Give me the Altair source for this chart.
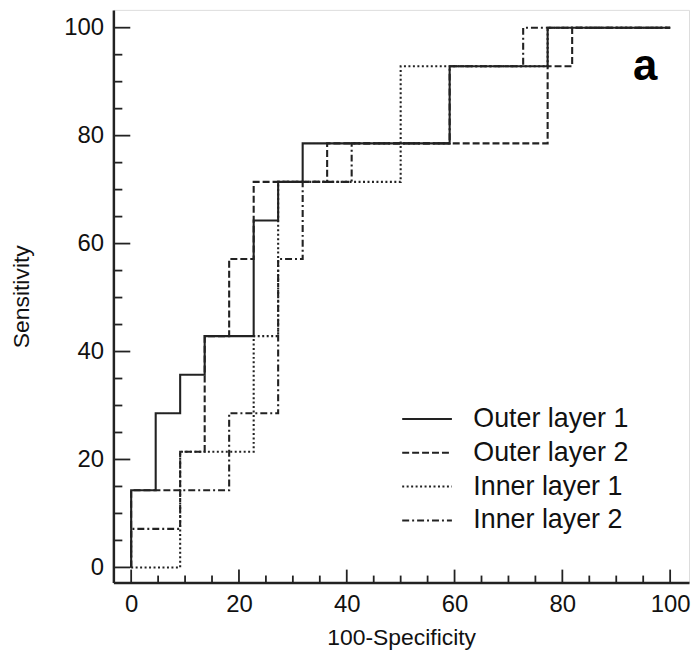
import altair as alt
import pandas as pd

series_names = ["Outer layer 1", "Outer layer 2", "Inner layer 1", "Inner layer 2"]

# ROC points (100-Specificity, Sensitivity), drawn as step-after curves
outer1_x = [0, 0, 4.55, 9.09, 13.64, 22.73, 27.27, 31.82, 59.09, 77.27, 100]
outer1_y = [0, 14.29, 28.57, 35.71, 42.86, 64.29, 71.43, 78.57, 92.86, 100, 100]

outer2_x = [0, 0, 9.09, 13.64, 18.18, 22.73, 36.36, 77.27, 81.82, 100]
outer2_y = [0, 14.29, 21.43, 42.86, 57.14, 71.43, 78.57, 92.86, 100, 100]

inner1_x = [0, 9.09, 22.73, 27.27, 50.0, 77.27, 100]
inner1_y = [0, 21.43, 42.86, 71.43, 92.86, 100, 100]

inner2_x = [0, 0, 9.09, 18.18, 27.27, 31.82, 40.91, 59.09, 72.73, 100]
inner2_y = [0, 7.14, 14.29, 28.57, 57.14, 71.43, 78.57, 92.86, 100, 100]

x_major = [0, 20, 40, 60, 80, 100]
x_minor = [5, 10, 15, 25, 30, 35, 45, 50, 55, 65, 70, 75, 85, 90, 95]
y_major = [0, 20, 40, 60, 80, 100]
y_minor = [5, 10, 15, 25, 30, 35, 45, 50, 55, 65, 70, 75, 85, 90, 95]

rows = []
for name, xs_, ys_ in zip(series_names,
                          [outer1_x, outer2_x, inner1_x, inner2_x],
                          [outer1_y, outer2_y, inner1_y, inner2_y]):
    for i, (a, b) in enumerate(zip(xs_, ys_)):
        rows.append({"series": name, "fpr": a, "sens": b, "order": i})
df = pd.DataFrame(rows)

W, H = 579, 576
INK = "#222222"
FONT = "Liberation Sans"

xscale = alt.Scale(domain=[-3.3, 103.5], nice=False, zero=False)
yscale = alt.Scale(domain=[-2.8, 103.3], nice=False, zero=False)

x_axis = alt.Axis(values=x_major, ticks=False, tickSize=0, grid=False,
                  title="100-Specificity", titleFontSize=23, titleFontWeight="normal",
                  titleFont=FONT, titleColor="#111", titlePadding=10,
                  labelFont=FONT, labelFontSize=24, labelColor="#111", labelPadding=10,
                  domainColor=INK, domainWidth=2.5, domainOpacity=1)
y_axis = alt.Axis(values=y_major, ticks=False, tickSize=0, grid=False,
                  title="Sensitivity", titleFontSize=23, titleFontWeight="normal",
                  titleFont=FONT, titleColor="#111", titlePadding=30,
                  labelFont=FONT, labelFontSize=24, labelColor="#111", labelPadding=10,
                  domainColor=INK, domainWidth=2.5, domainOpacity=1)

dash_scale = alt.Scale(domain=series_names,
                       range=[[1, 0], [7, 3], [2, 2.5], [7, 3, 2, 3]])

lines = alt.Chart(df).mark_line(interpolate="step-after", strokeWidth=2.1, color=INK).encode(
    x=alt.X("fpr:Q", scale=xscale, axis=x_axis),
    y=alt.Y("sens:Q", scale=yscale, axis=y_axis),
    strokeDash=alt.StrokeDash("series:N", scale=dash_scale, sort=series_names,
                              legend=alt.Legend(title=None, orient="none", legendX=302, legendY=398,
                                                symbolType="M-2.5,0H2.5", symbolSize=400,
                                                symbolStrokeWidth=2, symbolStrokeColor=INK,
                                                labelFont=FONT, labelFontSize=27, labelColor="#111",
                                                labelOffset=33, rowPadding=6, padding=0)),
    order="order:Q",
)

def tick_layer(vals, axis, length):
    d = pd.DataFrame({"v": vals})
    base = alt.Chart(d).mark_rule(color=INK, strokeWidth=1.8)
    if axis == "x":
        return base.encode(x=alt.X("v:Q", scale=xscale, axis=x_axis),
                           y=alt.value(H), y2=alt.value(H - length))
    return base.encode(y=alt.Y("v:Q", scale=yscale, axis=y_axis),
                       x=alt.value(0), x2=alt.value(length))

label_df = pd.DataFrame({"t": ["a"]})
panel_label = alt.Chart(label_df).mark_text(font=FONT, fontSize=44, fontWeight="bold",
                                            color="#000", baseline="middle", align="center").encode(
    text="t:N", x=alt.value(535), y=alt.value(58))

chart = alt.layer(
    lines,
    tick_layer(x_major, "x", 13), tick_layer(x_minor, "x", 7),
    tick_layer(y_major, "y", 17), tick_layer(y_minor, "y", 9),
    panel_label,
).properties(
    width=W, height=H,
    padding={"left": 2, "top": 0, "right": 0, "bottom": 5},
).configure_view(stroke=None).configure(background="white")

chart.save("out.html", embed_options={"renderer": "svg", "actions": False})
